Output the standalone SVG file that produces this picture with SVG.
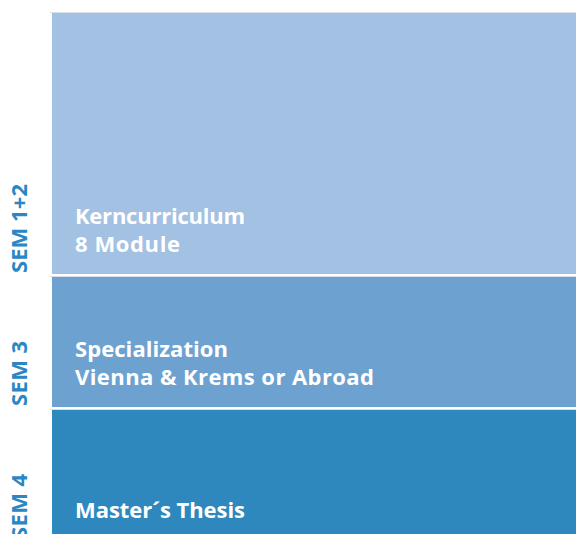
<svg xmlns="http://www.w3.org/2000/svg" width="576" height="534" viewBox="0 0 576 534">
<style>
.t{font-family:"Open Sans","Liberation Sans",sans-serif;font-weight:bold;font-size:22px;fill:#ffffff}
.s{font-family:"Open Sans","Liberation Sans",sans-serif;font-weight:bold;font-size:22px;fill:#2b87c3}
.sep{stroke:#d8dfe8;stroke-width:1}
</style>
<rect width="576" height="534" fill="#ffffff"/>
<line class="sep" x1="50" y1="12.5" x2="576" y2="12.5"/>
<g id="sem12">
<rect x="52" y="13" width="524" height="261" fill="#a3c1e3"/>
<text class="t" x="75" y="224" textLength="170" lengthAdjust="spacing">Kerncurriculum</text>
<text class="t" x="75" y="252" textLength="105" lengthAdjust="spacing">8 Module</text>
<text class="s" transform="translate(27 273) rotate(-90)" textLength="89" lengthAdjust="spacing">SEM 1+2</text>
</g>
<line class="sep" x1="50" y1="276.5" x2="576" y2="276.5"/>
<g id="sem3">
<rect x="52" y="277" width="524" height="130" fill="#6da2d0"/>
<text class="t" x="75" y="357" textLength="153" lengthAdjust="spacing">Specialization</text>
<text class="t" x="75" y="385" textLength="299" lengthAdjust="spacing">Vienna &amp; Krems or Abroad</text>
<text class="s" transform="translate(27 406) rotate(-90)" textLength="65" lengthAdjust="spacing">SEM 3</text>
</g>
<line class="sep" x1="50" y1="409.5" x2="576" y2="409.5"/>
<g id="sem4">
<rect x="52" y="410" width="524" height="124" fill="#2e88bd"/>
<text class="t" x="75" y="518" textLength="170" lengthAdjust="spacing">Master´s Thesis</text>
<text class="s" transform="translate(27 539) rotate(-90)" textLength="65" lengthAdjust="spacing">SEM 4</text>
</g>
</svg>
